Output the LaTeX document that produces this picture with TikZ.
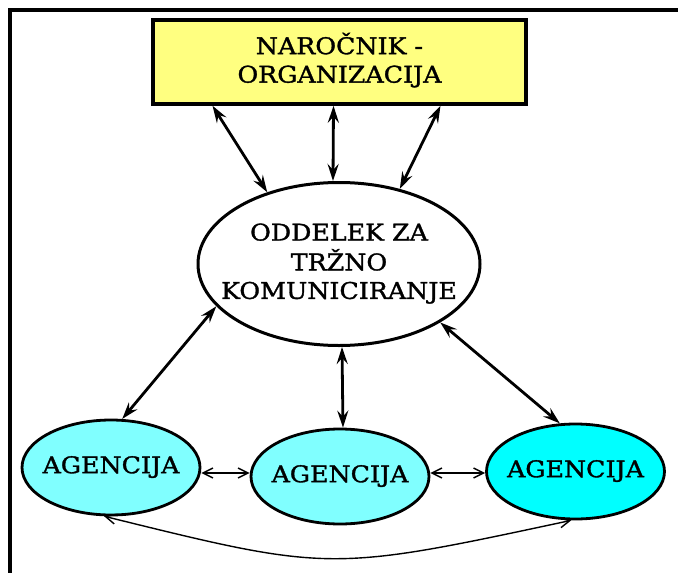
\documentclass[tikz,border=0pt]{standalone}
\usepackage{fontspec}
\newfontfamily\labelfont[FakeStretch=1.1,FakeBold=1.4]{DejaVu Serif}
\usetikzlibrary{arrows.meta,shapes.geometric,calc}
\definecolor{clientfill}{HTML}{FFFF80}
\definecolor{agencyfill}{HTML}{80FFFF}
\definecolor{agencystrong}{HTML}{00FFFF}
% centred label text that does not widen its shape
\newcommand{\lbltext}[2][0pt]{\raisebox{#1}{\makebox[0pt]{\begin{tabular}{@{}c@{}}#2\end{tabular}}}}
\tikzset{
  lbl/.style={font=\labelfont\fontsize{23}{28.5}\selectfont, text=black},
  clientbox/.style={draw, line width=3.5pt, fill=clientfill, minimum width=373pt, minimum height=84pt, inner sep=0pt},
  dept/.style={ellipse, draw, line width=3pt, fill=white, minimum width=282pt, minimum height=163pt, inner sep=0pt},
  agency/.style={ellipse, draw, line width=2.8pt, fill=agencyfill, minimum width=178pt, minimum height=95pt, inner sep=0pt},
  bigarrow/.style={line width=2.8pt, {Stealth[length=17pt,width=11pt,inset=6pt]}-{Stealth[length=17pt,width=11pt,inset=6pt]}},
  thinarrow/.style={line width=1.4pt, {Straight Barb[length=10pt,width=10pt]}-{Straight Barb[length=10pt,width=10pt]}}
}
\begin{document}
\begin{tikzpicture}[x=1pt,y=-1pt]
  \useasboundingbox (0,0) rectangle (678,573);
  % outer frame (top and left edges)
  \draw[line width=4pt] (8,10) -- (678,10);
  \draw[line width=4pt] (10,8) -- (10,573);

  \node[clientbox, lbl] (client) at (339.5,62) {\lbltext[2pt]{NAROČNIK -\\ORGANIZACIJA}};
  \node[dept, lbl] (oval) at (339,264) {\lbltext[5pt]{ODDELEK ZA\\TRŽNO\\KOMUNICIRANJE}};
  \node[agency, lbl] (ag1) at (111,467.5) {\lbltext{AGENCIJA}};
  \node[agency, lbl] (ag2) at (340,476.5) {\lbltext{AGENCIJA}};
  \node[agency, lbl, fill=agencystrong] (ag3) at (575.5,471.5) {\lbltext{AGENCIJA}};

  % links between the client and the department
  \draw[bigarrow] ([xshift=-127pt]client.south) -- (oval.135);
  \draw[bigarrow] ([xshift=-6pt]client.south) -- ([xshift=-6pt]oval.north);
  \draw[bigarrow] ([xshift=101pt]client.south) -- (oval.51);

  % links between the department and the agencies
  \draw[bigarrow] (oval.-161) -- (ag1.77);
  \draw[bigarrow] ([xshift=3pt]oval.south) -- ([xshift=3pt]ag2.north);
  \draw[bigarrow] (oval.-30) -- (ag3.108);

  % links between agencies
  \draw[thinarrow] ([yshift=-5.5pt]ag1.east) -- ([yshift=3.5pt]ag2.west);
  \draw[thinarrow] ([yshift=3.5pt]ag2.east) -- ([yshift=-1.5pt]ag3.west);
  \coordinate (dip) at (330,572);
  \draw[thinarrow] (ag1.262) .. controls (dip) .. (ag3.265);
\end{tikzpicture}
\end{document}
